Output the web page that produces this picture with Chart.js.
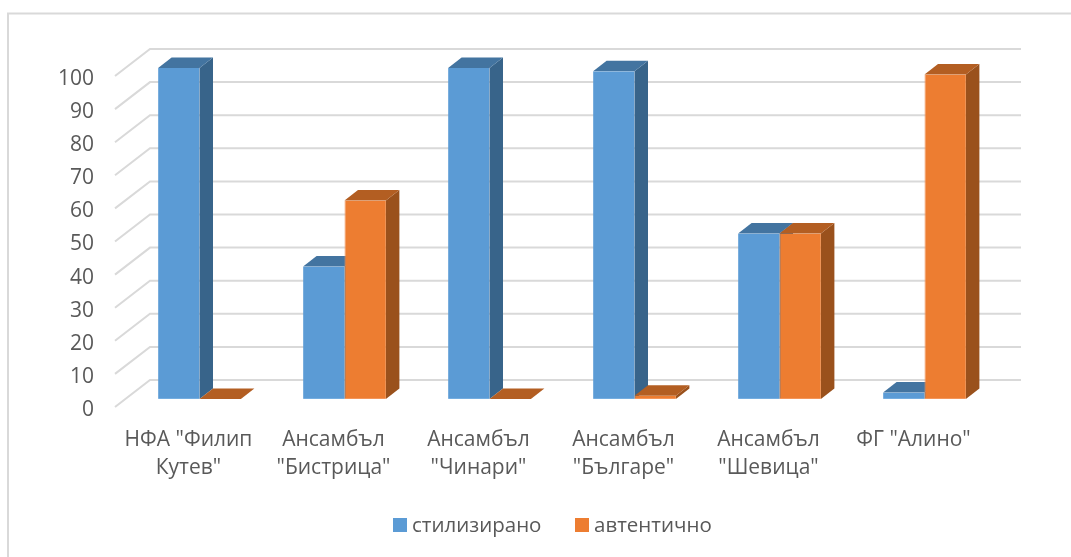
<!DOCTYPE html>
<html>
<head>
<meta charset="utf-8">
<title>Chart</title>
<script src="https://cdn.jsdelivr.net/npm/chart.js@4"></script>
<style>
    html, body { margin: 0; padding: 0; background: #ffffff; }
    canvas { display: block; }
</style>
</head>
<body>
<canvas id="chart" width="1071" height="557"></canvas>
<script>
const categories = [
    ['НФА "Филип', 'Кутев"'],
    ['Ансамбъл', '"Бистрица"'],
    ['Ансамбъл', '"Чинари"'],
    ['Ансамбъл', '"Българе"'],
    ['Ансамбъл', '"Шевица"'],
    ['ФГ "Алино"']
];
const stylized = [100, 40, 100, 99, 50, 2];
const authentic = [0, 60, 0, 1, 50, 98];
const valueTicks = [0, 10, 20, 30, 40, 50, 60, 70, 80, 90, 100];

const seriesNames = ['стилизирано', 'автентично'];
const frontColors = ['#5b9bd5', '#ed7d31'];
const edgeColors = ['#74ade0', '#f3955a'];
const topColors = ['#4374a0', '#b35e22'];
const sideColors = ['#38648a', '#9a511c'];

const FONT = '21px "Open Sans", sans-serif';
const LEGEND_FONT = '20.5px "Open Sans", sans-serif';
const TEXT_COLOR = '#595959';
const GRID_COLOR = '#d9d9d9';

function fillFace(ctx, color, points) {
    ctx.fillStyle = color;
    ctx.beginPath();
    points.forEach((p, i) => (i ? ctx.lineTo(p[0], p[1]) : ctx.moveTo(p[0], p[1])));
    ctx.closePath();
    ctx.fill();
}

// walls and the depth faces go under the bars the library draws
const depthPlugin = {
    id: 'depth',
    beforeDatasetsDraw(chart) {
        const { ctx, chartArea, scales } = chart;
        const dx = 13.5;
        const dy = -10.5;

        ctx.save();
        ctx.strokeStyle = GRID_COLOR;
        ctx.lineWidth = 2;
        ctx.beginPath();
        ctx.moveTo(8, 557);
        ctx.lineTo(8, 13.5);
        ctx.lineTo(1071, 13.5);
        ctx.stroke();

        valueTicks.forEach((value) => {
            const y = scales.y.getPixelForValue(value);
            ctx.beginPath();
            ctx.moveTo(chartArea.left - 12, y + 8);
            ctx.lineTo(chartArea.left + 23, y - 19);
            ctx.lineTo(chartArea.right + 24, y - 19);
            ctx.stroke();
        });

        categories.forEach((label, index) => {
            [0, 1].forEach((series) => {
                const bar = chart.getDatasetMeta(series).data[index];
                const left = bar.x - bar.width / 2;
                const right = bar.x + bar.width / 2;
                fillFace(ctx, sideColors[series], [
                    [right, bar.y], [right + dx, bar.y + dy],
                    [right + dx, bar.base + dy], [right, bar.base]
                ]);
                fillFace(ctx, topColors[series], [
                    [left, bar.y], [left + dx, bar.y + dy],
                    [right + dx, bar.y + dy], [right, bar.y]
                ]);
            });
        });
        ctx.restore();
    },
    afterDraw(chart) {
        const { ctx, scales } = chart;
        ctx.save();
        ctx.font = FONT;
        ctx.fillStyle = TEXT_COLOR;
        ctx.textBaseline = 'middle';

        ctx.textAlign = 'right';
        valueTicks.forEach((value) => {
            ctx.fillText(String(value), 94, scales.y.getPixelForValue(value) + 11);
        });

        ctx.textAlign = 'center';
        categories.forEach((lines, index) => {
            const x = scales.x.getPixelForTick(index) - 11;
            lines.forEach((line, i) => ctx.fillText(line, x, 440 + i * 28.5));
        });

        ctx.font = LEGEND_FONT;
        ctx.textAlign = 'left';
        [393, 575].forEach((x, i) => {
            ctx.fillStyle = frontColors[i];
            ctx.fillRect(x, 518, 14, 14);
            ctx.fillStyle = TEXT_COLOR;
            ctx.fillText(seriesNames[i], x + 19, 526);
        });
        ctx.restore();
    }
};

new Chart(document.getElementById('chart'), {
    type: 'bar',
    data: {
        labels: categories,
        datasets: [
            {
                label: seriesNames[0],
                data: stylized,
                backgroundColor: frontColors[0],
                borderColor: edgeColors[0],
                borderWidth: { bottom: 1 },
                borderSkipped: false
            },
            {
                label: seriesNames[1],
                data: authentic,
                backgroundColor: frontColors[1],
                borderColor: edgeColors[1],
                borderWidth: { bottom: 1, left: 1 },
                borderSkipped: false
            }
        ]
    },
    options: {
        responsive: false,
        animation: false,
        layout: {
            padding: { left: 127, right: 74, top: 68, bottom: 158 }
        },
        datasets: {
            bar: { categoryPercentage: 0.571, barPercentage: 1 }
        },
        plugins: {
            legend: { display: false },
            tooltip: { enabled: false }
        },
        scales: {
            x: { display: false },
            y: { display: false, min: 0, max: 100 }
        }
    },
    plugins: [depthPlugin]
});
</script>
</body>
</html>
